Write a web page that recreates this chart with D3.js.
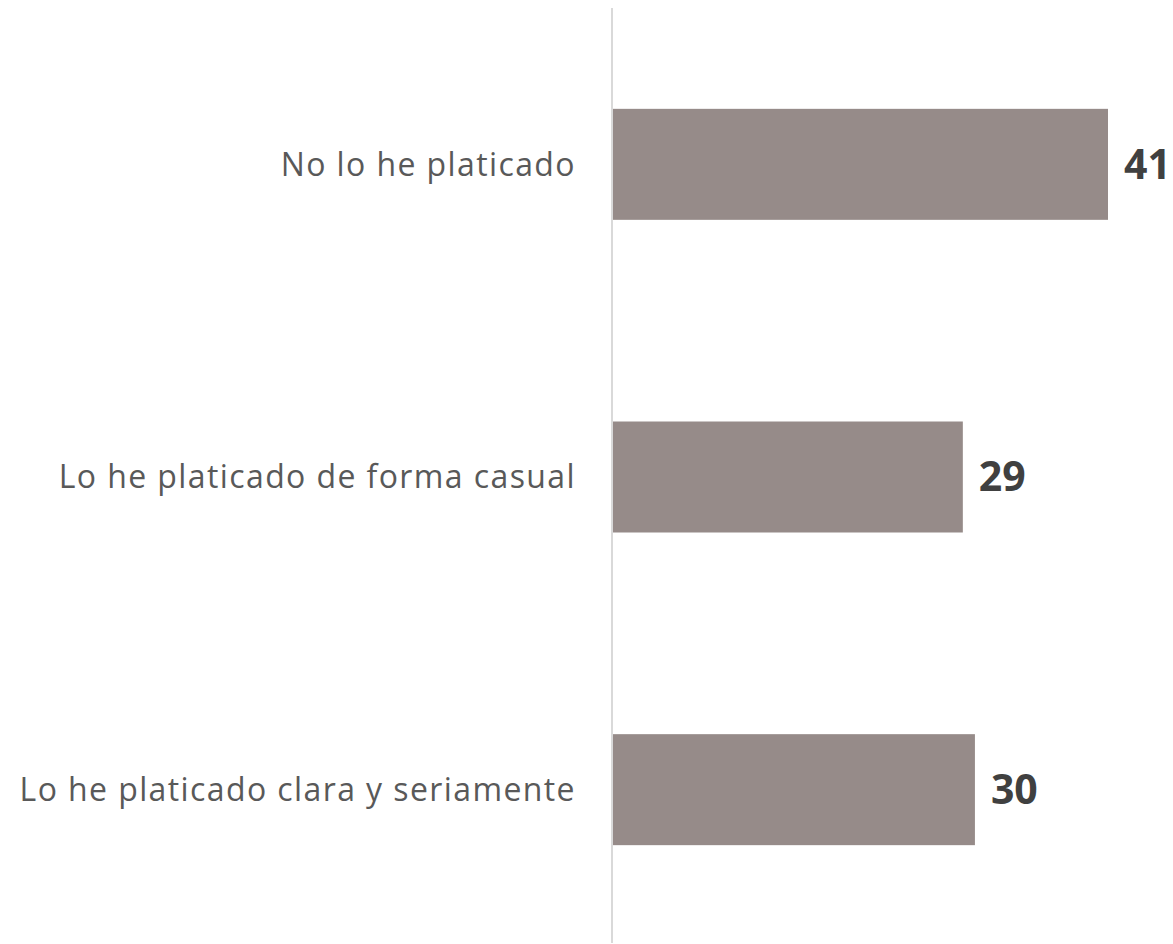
<!DOCTYPE html>
<html>
<head>
<meta charset="utf-8">
<script src="https://cdn.jsdelivr.net/npm/d3@7"></script>
<style>
  body { margin: 0; background: #fff; }
</style>
</head>
<body>
<div id="chart"></div>
<script>
const categories = ["No lo he platicado", "Lo he platicado de forma casual", "Lo he platicado clara y seriamente"];
const values = [41, 29, 30];

const W = 1173, H = 944;
const axisX = 612;

const svg = d3.select("#chart").append("svg")
    .attr("width", W).attr("height", H);

// 41 -> ~495px
const x = d3.scaleLinear().domain([0, 41]).range([axisX, 1108]);
const y = d3.scaleBand().domain(categories).range([8, 946]).paddingInner(0.645).paddingOuter(0.3225);

// bars
svg.selectAll(".bar")
  .data(values)
  .enter().append("rect")
    .attr("class", "bar")
    .attr("x", x(0) + 1)
    .attr("y", (d, i) => y(categories[i]))
    .attr("width", d => x(d) - x(0) - 1)
    .attr("height", y.bandwidth())
    .attr("fill", "#968b89");

// vertical axis line
svg.append("line")
    .attr("x1", axisX).attr("x2", axisX)
    .attr("y1", 8).attr("y2", 943)
    .attr("stroke", "#d9d9d9").attr("stroke-width", 2);

// category labels
svg.selectAll(".cat")
  .data(categories)
  .enter().append("text")
    .attr("class", "cat")
    .attr("x", axisX - 36)
    .attr("y", d => y(d) + y.bandwidth() / 2)
    .attr("dy", "0.35em")
    .attr("text-anchor", "end")
    .attr("font-family", "'Open Sans', sans-serif")
    .attr("font-size", 32)
    .attr("letter-spacing", 1.4)
    .attr("fill", "#595959")
    .text(d => d);

// value labels
svg.selectAll(".val")
  .data(values)
  .enter().append("text")
    .attr("class", "val")
    .attr("x", d => x(d) + 16)
    .attr("y", (d, i) => y(categories[i]) + y.bandwidth() / 2)
    .attr("dy", "0.35em")
    .attr("font-family", "'Open Sans', sans-serif")
    .attr("font-weight", "bold")
    .attr("font-size", 41)
    .attr("fill", "#404040")
    .text(d => d);
</script>
</body>
</html>
